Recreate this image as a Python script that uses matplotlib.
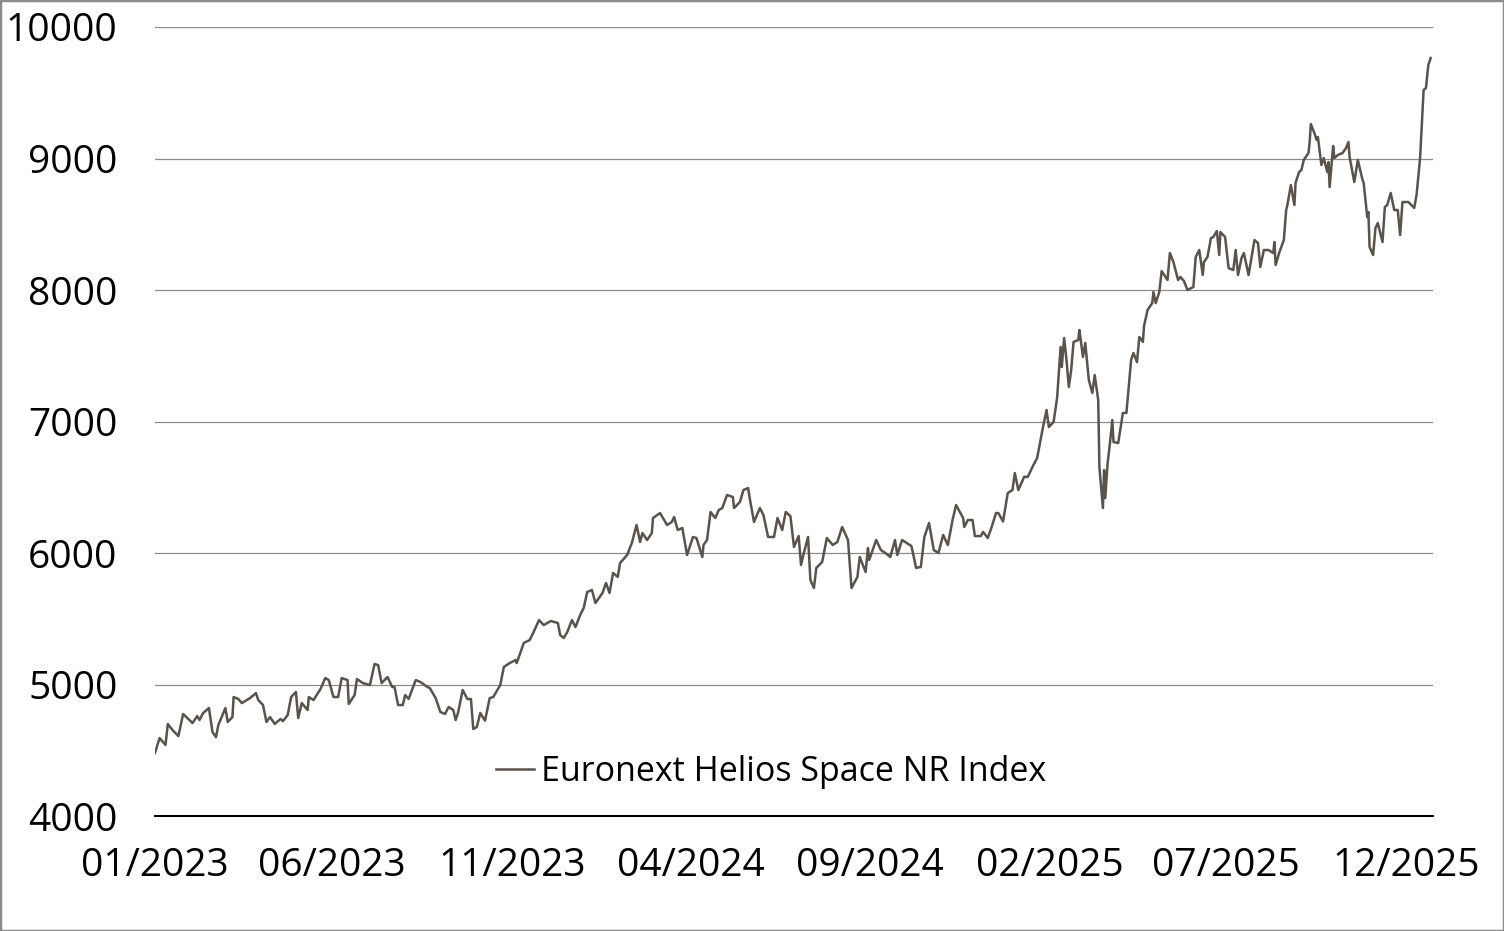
import numpy as np
import pandas as pd
import matplotlib
matplotlib.use("Agg")
import matplotlib.pyplot as plt
import matplotlib.dates as mdates
from matplotlib.patches import Rectangle

plt.rcParams['font.family'] = ['Open Sans', 'DejaVu Sans']

# days after 01/01/2023 and index level
days = [0, 4, 9, 11, 15, 20, 24, 32, 36, 38, 41, 46, 49, 52, 54, 60, 62, 66, 67, 71,
        74, 81, 86, 88, 92, 95, 98, 102, 107, 109, 113, 116, 120, 122, 125, 130, 131, 135, 141, 145,
        148, 152, 156, 159, 164, 165, 170, 172, 177, 183, 187, 190, 193, 198, 202, 204, 207, 211, 213, 216,
        222, 226, 232, 234, 239, 243, 247, 250, 254, 256, 258, 262, 266, 269, 271, 274, 277, 281, 285, 288,
        294, 297, 302, 307, 308, 314, 319, 322, 327, 331, 337, 343, 345, 348, 351, 355, 358, 362, 365, 368,
        372, 375, 381, 384, 387, 390, 394, 396, 402, 406, 410, 413, 415, 419, 423, 424, 430, 436, 440, 442,
        445, 449, 453, 458, 461, 466, 467, 470, 473, 477, 480, 483, 487, 492, 493, 498, 501, 505, 506, 510,
        515, 518, 522, 527, 530, 534, 537, 541, 544, 548, 550, 552, 556, 558, 561, 563, 568, 572, 577, 581,
        585, 590, 593, 598, 600, 605, 607, 608, 614, 618, 623, 626, 630, 632, 636, 640, 644, 648, 652, 655,
        659, 663, 667, 671, 675, 679, 682, 688, 689, 692, 696, 698, 703, 705, 709, 712, 716, 718, 722, 726,
        730, 732, 735, 740, 743, 747, 751, 756, 759, 761, 765, 768, 771, 772, 774, 776, 778, 780, 782, 786,
        787, 790, 792, 795, 798, 800, 803, 804, 807, 808, 809, 811, 813, 815, 816, 820, 824, 827, 831, 833,
        836, 838, 841, 842, 845, 849, 850, 852, 855, 857, 862, 864, 867, 871, 873, 876, 879, 884, 886, 889,
        892, 893, 896, 899, 901, 904, 906, 907, 911, 914, 918, 920, 922, 925, 927, 931, 936, 939, 941, 944,
        948, 952, 953, 954, 957, 961, 963, 964, 967, 970, 971, 974, 976, 978, 982, 983, 984, 987, 989, 990,
        993, 995, 998, 999, 1000, 1003, 1004, 1007, 1011, 1014, 1016, 1017, 1021, 1024, 1028, 1029, 1032, 1033, 1034, 1037,
        1039, 1041, 1045, 1047, 1049, 1052, 1055, 1058, 1060, 1062, 1067, 1072, 1074, 1077, 1080, 1082, 1084, 1086]

level = [4479, 4593, 4540, 4700, 4654, 4608, 4776, 4707, 4760, 4730, 4783, 4821, 4639, 4600, 4692, 4821, 4715, 4753, 4905, 4890,
         4859, 4897, 4935, 4882, 4844, 4715, 4753, 4700, 4738, 4722, 4768, 4905, 4943, 4745, 4859, 4806, 4905, 4882, 4966, 5049,
         5034, 4905, 4905, 5049, 5034, 4852, 4920, 5042, 5011, 4996, 5156, 5148, 5011, 5057, 4981, 4981, 4844, 4844, 4920, 4890,
         5034, 5019, 4981, 4973, 4897, 4791, 4776, 4829, 4806, 4730, 4783, 4958, 4890, 4890, 4662, 4677, 4783, 4725, 4897, 4905,
         4996, 5133, 5163, 5186, 5163, 5316, 5338, 5392, 5490, 5452, 5483, 5468, 5376, 5354, 5399, 5490, 5437, 5528, 5582, 5703,
         5719, 5620, 5696, 5772, 5696, 5848, 5818, 5924, 5985, 6076, 6213, 6084, 6152, 6099, 6152, 6266, 6304, 6213, 6236, 6274,
         6175, 6190, 5985, 6122, 6114, 5970, 6061, 6099, 6312, 6266, 6327, 6342, 6441, 6426, 6342, 6388, 6479, 6494, 6433, 6236,
         6342, 6289, 6122, 6122, 6266, 6175, 6312, 6280, 6046, 6129, 5909, 5985, 6122, 5795, 5734, 5886, 5932, 6114, 6061, 6084,
         6198, 6099, 5734, 5818, 5970, 5856, 6038, 5947, 6099, 6023, 5992, 5970, 6099, 5985, 6099, 6076, 6053, 5886, 5894, 6122,
         6228, 6023, 6000, 6137, 6061, 6251, 6365, 6266, 6198, 6251, 6251, 6129, 6129, 6160, 6114, 6190, 6304, 6304, 6240, 6456,
         6479, 6608, 6479, 6580, 6578, 6654, 6722, 6958, 7087, 6958, 6996, 7179, 7567, 7414, 7635, 7468, 7262, 7392, 7605, 7620,
         7696, 7491, 7597, 7316, 7217, 7354, 7163, 6654, 6342, 6631, 6418, 6684, 6836, 7011, 6844, 6836, 7065, 7065, 7468, 7521,
         7452, 7643, 7605, 7726, 7848, 7901, 7985, 7901, 7985, 8144, 8076, 8281, 8213, 8076, 8099, 8068, 8000, 8023, 8251, 8304,
         8114, 8213, 8251, 8395, 8403, 8449, 8266, 8441, 8403, 8167, 8152, 8304, 8114, 8243, 8281, 8114, 8380, 8357, 8175, 8304,
         8304, 8281, 8365, 8190, 8281, 8380, 8608, 8646, 8798, 8646, 8814, 8897, 8913, 8989, 9042, 9125, 9262, 9194, 9141, 9163,
         8951, 9004, 8897, 8973, 8783, 9095, 9004, 9027, 9042, 9080, 9125, 9011, 8821, 8989, 8837, 8814, 8555, 8593, 8327, 8266,
         8471, 8509, 8365, 8631, 8646, 8738, 8608, 8608, 8418, 8669, 8669, 8624, 8722, 9004, 9521, 9536, 9711, 9764]

dates = pd.Timestamp('2023-01-01') + pd.to_timedelta(days, unit='D')

fig = plt.figure(figsize=(15.04, 9.31), dpi=100)
ax = fig.add_axes([0.103, 0.1235, 0.8498, 0.8475])

ax.plot(dates, level, color='#59534b', lw=1.8, label='Euronext Helios Space NR Index')

ax.set_ylim(4000, 10000)
ax.set_yticks(np.arange(4000, 10001, 1000))
ax.set_xlim(pd.Timestamp('2023-01-01'), pd.Timestamp('2025-12-24'))
ax.set_xticks(pd.date_range('2023-01-01', '2025-12-01', freq='5MS'))
ax.xaxis.set_major_formatter(mdates.DateFormatter('%m/%Y'))

ax.grid(axis='y', color='#8c8c8c', lw=0.9)
ax.set_axisbelow(True)
for s in ['top', 'right', 'left']:
    ax.spines[s].set_visible(False)
ax.spines['bottom'].set_color('black')
ax.spines['bottom'].set_linewidth(1.5)
ax.spines['bottom'].set_zorder(3)

ax.tick_params(axis='both', length=0, labelsize=28, colors='black')
ax.tick_params(axis='y', pad=27)
ax.tick_params(axis='x', pad=22)

ax.legend(loc='center', bbox_to_anchor=(0.482, 0.056), frameon=False, fontsize=24.5,
          handlelength=1.1, handletextpad=0.2, borderpad=0)

fig.patches.append(Rectangle((0, 0), 1, 1, transform=fig.transFigure, fill=False,
                             edgecolor='#8c8c8c', lw=2.5))

fig.savefig('out.png', dpi=100)
